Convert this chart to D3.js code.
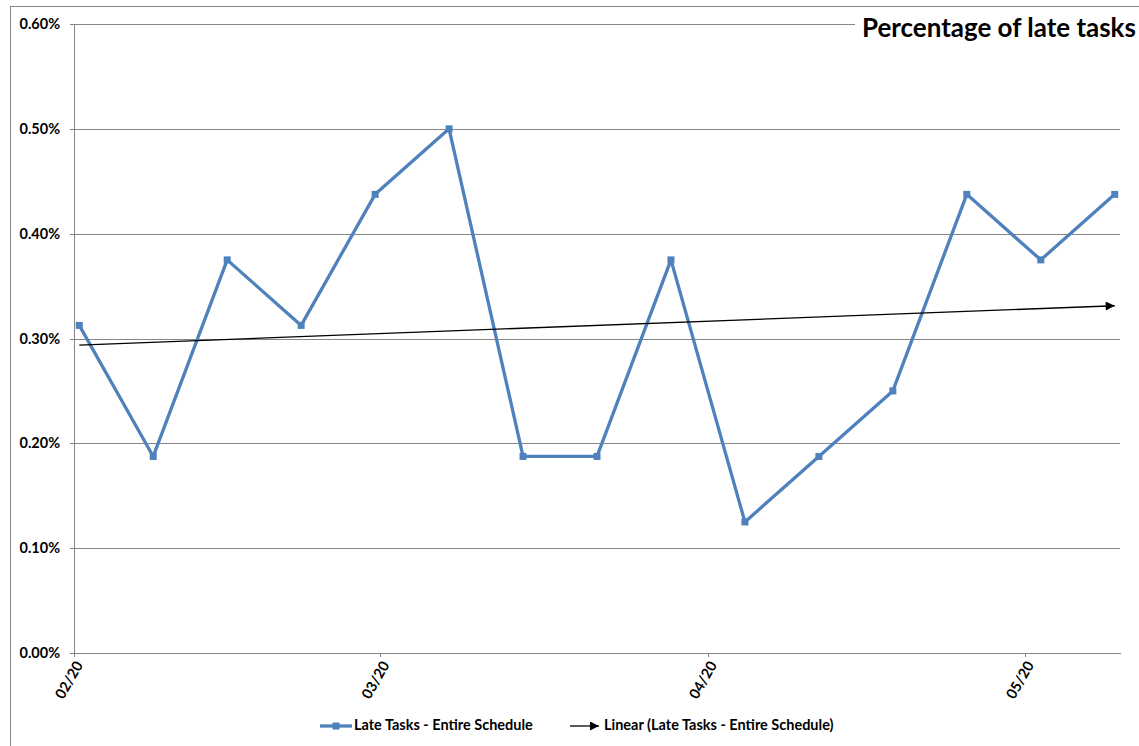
<!DOCTYPE html>
<html><head><meta charset="utf-8">
<script src="https://cdn.jsdelivr.net/npm/d3@7"></script>
<style>
html,body{margin:0;padding:0;background:#fff;}
svg{display:block;font-family:Lato,"Open Sans","Liberation Sans",sans-serif;}
</style></head><body>
<svg id="chart" width="1139" height="746"></svg>
<script>
// Weekly snapshot dates and share of late tasks in the entire schedule
const weekDates = ["2020-02-01","2020-02-08","2020-02-15","2020-02-22","2020-02-29",
  "2020-03-07","2020-03-14","2020-03-21","2020-03-28","2020-04-04",
  "2020-04-11","2020-04-18","2020-04-25","2020-05-02","2020-05-09"];
const lateTaskShare = [0.003125,0.001875,0.00375,0.003125,0.004375,
  0.005,0.001875,0.001875,0.00375,0.00125,
  0.001875,0.0025,0.004375,0.00375,0.004375];
const yTickValues = [0,0.001,0.002,0.003,0.004,0.005,0.006];
const axisStart = "2020-02-01";
const axisEnd = "2020-05-10";
const chartTitle = "Percentage of late tasks";
const seriesName = "Late Tasks - Entire Schedule";
const trendName = "Linear (Late Tasks - Entire Schedule)";

const parse = d3.timeParse("%Y-%m-%d");
const dates = weekDates.map(parse);
const data = dates.map((d, i) => ({date: d, value: lateTaskShare[i]}));

const svg = d3.select("#chart");
const W = 1139, H = 746;
const plot = {left: 74, right: 1120, top: 24, bottom: 653};
const gridColor = "#868686";
const blue = "#4F81BD";
const fontStack = 'Lato,"Open Sans","Liberation Sans",sans-serif';

// outer chart frame
svg.append("rect").attr("x", 10.5).attr("y", 6.5).attr("width", W + 20).attr("height", H + 20)
  .attr("fill", "#fff").attr("stroke", gridColor).attr("stroke-width", 1);

const x = d3.scaleTime().domain([parse(axisStart), parse(axisEnd)]).range([plot.left, plot.right]);
const y = d3.scaleLinear().domain([0, 0.006]).range([plot.bottom, plot.top]);
const halfDay = 12 * 3600 * 1000;
const px = d => x(new Date(d.getTime() + halfDay));

// horizontal gridlines
svg.append("g").attr("transform", `translate(${plot.left},0)`)
  .call(d3.axisLeft(y).tickValues(yTickValues).tickSize(-(plot.right - plot.left)).tickFormat(""))
  .call(g => g.select(".domain").remove())
  .call(g => g.selectAll("line").attr("stroke", gridColor).attr("shape-rendering", "crispEdges"));

// title with white backing over the top gridline
const titleG = svg.append("g");
const titleBg = titleG.append("rect").attr("fill", "#fff");
const title = titleG.append("text").attr("x", 862).attr("y", 37)
  .attr("font-weight", "bold").attr("font-size", 22).attr("fill", "#000").text(chartTitle);
const fit = (sel, target) => {
  const w = sel.node().getComputedTextLength();
  const fs = parseFloat(sel.attr("font-size"));
  sel.attr("font-size", fs * target / w);
  return fs * target / w;
};
fit(title, 274);
titleBg.attr("x", 855).attr("y", 10).attr("width", 290).attr("height", 36);

// legend (sized first so tick labels share its text size)
const legend = svg.append("g");
const leg1 = legend.append("text").attr("x", 354).attr("y", 730).attr("font-weight", "bold")
  .attr("font-size", 12).text(seriesName);
const labelSize = fit(leg1, 179);
legend.append("text").attr("x", 604).attr("y", 730).attr("font-weight", "bold")
  .attr("font-size", labelSize).text(trendName);
legend.append("line").attr("x1", 320).attr("x2", 352).attr("y1", 726).attr("y2", 726)
  .attr("stroke", blue).attr("stroke-width", 3.3);
legend.append("rect").attr("x", 332.5).attr("y", 722.5).attr("width", 7).attr("height", 7).attr("fill", blue);

const defs = svg.append("defs");
defs.append("marker").attr("id", "arrow").attr("viewBox", "0 0 10 10").attr("refX", 10).attr("refY", 5)
  .attr("markerUnits", "userSpaceOnUse").attr("markerWidth", 10).attr("markerHeight", 9).attr("orient", "auto")
  .append("path").attr("d", "M0,0L10,5L0,10Z").attr("fill", "#000");
legend.append("line").attr("x1", 570).attr("x2", 599).attr("y1", 726).attr("y2", 726)
  .attr("stroke", "#000").attr("stroke-width", 1.3).attr("marker-end", "url(#arrow)");

// y axis
svg.append("g").attr("transform", `translate(${plot.left},0)`)
  .call(d3.axisLeft(y).tickValues(yTickValues).tickFormat(d3.format(".2%")).tickSize(4).tickPadding(10))
  .attr("font-family", fontStack)
  .call(g => g.select(".domain").attr("stroke", gridColor).attr("shape-rendering", "crispEdges"))
  .call(g => g.selectAll(".tick line").attr("stroke", gridColor).attr("shape-rendering", "crispEdges"))
  .call(g => g.selectAll("text").attr("font-size", labelSize)
    .attr("font-weight", "bold").attr("fill", "#000"));

// x axis, monthly ticks
svg.append("g").attr("transform", `translate(0,${plot.bottom})`)
  .call(d3.axisBottom(x).ticks(d3.timeMonth.every(1)).tickFormat(d3.timeFormat("%m/%y")).tickSize(4).tickSizeOuter(0))
  .attr("font-family", fontStack)
  .call(g => g.select(".domain").attr("stroke", gridColor).attr("shape-rendering", "crispEdges"))
  .call(g => g.selectAll(".tick line").attr("stroke", gridColor).attr("shape-rendering", "crispEdges"))
  .call(g => g.selectAll("text").attr("font-size", labelSize)
    .attr("font-weight", "bold").attr("fill", "#000")
    .attr("text-anchor", "end").attr("y", 0).attr("dy", 0)
    .attr("transform", "translate(9,12) rotate(-60)"));

// least-squares trend over time
const t0 = dates[0].getTime();
const xs = dates.map(d => (d.getTime() - t0) / 86400000);
const mx = d3.mean(xs), my = d3.mean(lateTaskShare);
const slope = d3.sum(xs, (v, i) => (v - mx) * (lateTaskShare[i] - my)) / d3.sum(xs, v => (v - mx) ** 2);
const icept = my - slope * mx;
const first = dates[0], last = dates[dates.length - 1];
const trend = [first, last].map(d => ({date: d, value: icept + slope * (d.getTime() - t0) / 86400000}));

// series line and markers
svg.append("path").datum(data)
  .attr("d", d3.line().x(d => px(d.date)).y(d => y(d.value)))
  .attr("fill", "none").attr("stroke", blue).attr("stroke-width", 3.3).attr("stroke-linejoin", "round");
svg.append("g").selectAll("rect").data(data).join("rect")
  .attr("x", d => px(d.date) - 3.5).attr("y", d => y(d.value) - 3.5)
  .attr("width", 7).attr("height", 7).attr("fill", blue);

svg.append("path").datum(trend)
  .attr("d", d3.line().x(d => px(d.date)).y(d => y(d.value)))
  .attr("fill", "none").attr("stroke", "#000").attr("stroke-width", 1.3).attr("marker-end", "url(#arrow)");
</script>
</body></html>
